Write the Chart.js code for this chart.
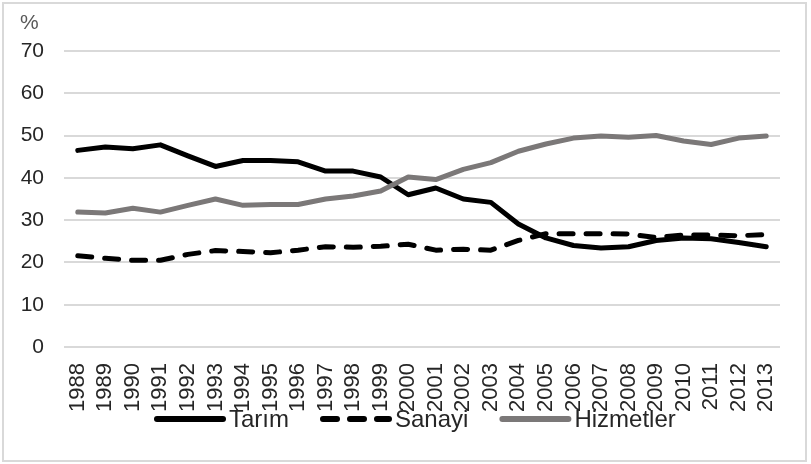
<!DOCTYPE html>
<html lang="tr">
<head>
<meta charset="UTF-8">
<title>Sektörlere göre istihdam</title>
<script src="https://cdn.jsdelivr.net/npm/chart.js@4.4.0/dist/chart.umd.min.js"></script>
<style>
  html, body { margin: 0; padding: 0; background: #fff; }
  #wrap { width: 811px; height: 464px; }
</style>
</head>
<body>
<div id="wrap"><canvas id="chart" width="811" height="464"></canvas></div>
<script>
// Yıllar ve sektör payları (%)
const years = [
  "1988", "1989", "1990", "1991", "1992", "1993", "1994", "1995", "1996",
  "1997", "1998", "1999", "2000", "2001", "2002", "2003", "2004", "2005",
  "2006", "2007", "2008", "2009", "2010", "2011", "2012", "2013"
];
const tarim = [
  46.5, 47.3, 46.9, 47.8, 45.2, 42.7, 44.1, 44.1, 43.8,
  41.6, 41.6, 40.2, 36.0, 37.6, 35.0, 34.2, 29.1, 25.8,
  24.0, 23.4, 23.7, 25.2, 25.8, 25.6, 24.7, 23.7
];
const sanayi = [
  21.6, 21.0, 20.5, 20.5, 21.9, 22.8, 22.6, 22.3, 22.9,
  23.7, 23.6, 23.8, 24.3, 22.9, 23.1, 22.9, 25.2, 26.8,
  26.8, 26.8, 26.7, 25.9, 26.5, 26.5, 26.3, 26.6
];
const hizmetler = [
  31.9, 31.7, 32.8, 31.9, 33.5, 35.0, 33.5, 33.7, 33.7,
  35.0, 35.7, 36.9, 40.2, 39.6, 42.0, 43.6, 46.3, 48.0,
  49.4, 49.9, 49.6, 50.0, 48.7, 47.9, 49.4, 49.9
];
const yTicks = [0, 10, 20, 30, 40, 50, 60, 70];

const FONT = "'Liberation Sans', Arial, sans-serif";
const TEXT = "#262626";
const GRID = "#d9d9d9";

Chart.defaults.font.family = FONT;
Chart.defaults.color = TEXT;

// çerçeve ve "%" etiketi
const framePlugin = {
  id: "frame",
  beforeDraw(chart) {
    const ctx = chart.ctx;
    ctx.save();
    ctx.fillStyle = "#fff";
    ctx.fillRect(0, 0, chart.width, chart.height);
    ctx.strokeStyle = GRID;
    ctx.lineWidth = 2;
    ctx.strokeRect(3, 3, 803, 458);
    ctx.fillStyle = "#595959";
    ctx.font = "21px " + FONT;
    ctx.textBaseline = "middle";
    ctx.fillText("%", 20, 23);
    ctx.restore();
  }
};

// alttaki açıklama (x etiketlerinin üstüne biniyor, orijinaldeki gibi)
const legendPlugin = {
  id: "customLegend",
  afterDraw(chart) {
    const ctx = chart.ctx;
    ctx.save();
    ctx.font = "24px " + FONT;
    ctx.textBaseline = "middle";
    let x = 155;
    const y = 419;
    chart.data.datasets.forEach((ds) => {
      ctx.beginPath();
      ctx.strokeStyle = ds.borderColor;
      ctx.lineWidth = 6;
      ctx.lineCap = "round";
      ctx.setLineDash(ds.borderDash || []);
      ctx.moveTo(x + 2, y);
      ctx.lineTo(x + 68, y);
      ctx.stroke();
      ctx.setLineDash([]);
      ctx.fillStyle = TEXT;
      ctx.fillText(ds.label, x + 74, y + 1);
      x += 74 + ctx.measureText(ds.label).width + 32;
    });
    ctx.restore();
  }
};

const lineStyle = {
  borderWidth: 5,
  pointRadius: 0,
  tension: 0,
  borderJoinStyle: "round",
  borderCapStyle: "round",
  fill: false
};

new Chart(document.getElementById("chart"), {
  type: "line",
  data: {
    labels: years,
    datasets: [
      { label: "Tarım", data: tarim, borderColor: "#000", order: 3, ...lineStyle },
      { label: "Sanayi", data: sanayi, borderColor: "#000", borderDash: [14, 13], order: 2, ...lineStyle },
      { label: "Hizmetler", data: hizmetler, borderColor: "#7b7878", order: 1, ...lineStyle }
    ]
  },
  options: {
    responsive: false,
    animation: false,
    layout: { padding: { left: 0, right: 31, top: 51, bottom: 0 } },
    plugins: {
      legend: { display: false },
      title: { display: false },
      tooltip: { enabled: false }
    },
    scales: {
      x: {
        offset: true,
        grid: { display: false, drawTicks: false },
        border: { display: false },
        ticks: {
          autoSkip: false,
          maxRotation: 90,
          minRotation: 90,
          padding: 16,
          color: TEXT,
          font: { size: 22 }
        },
        afterFit: (scale) => { scale.height = 117; }
      },
      y: {
        min: 0,
        max: 70,
        afterBuildTicks: (scale) => { scale.ticks = yTicks.map((v) => ({ value: v })); },
        grid: { color: GRID, lineWidth: 2, drawTicks: false },
        border: { display: false },
        ticks: { padding: 20, color: TEXT, font: { size: 21 } },
        afterFit: (scale) => { scale.width = 64; }
      }
    }
  },
  plugins: [framePlugin, legendPlugin]
});
</script>
</body>
</html>
